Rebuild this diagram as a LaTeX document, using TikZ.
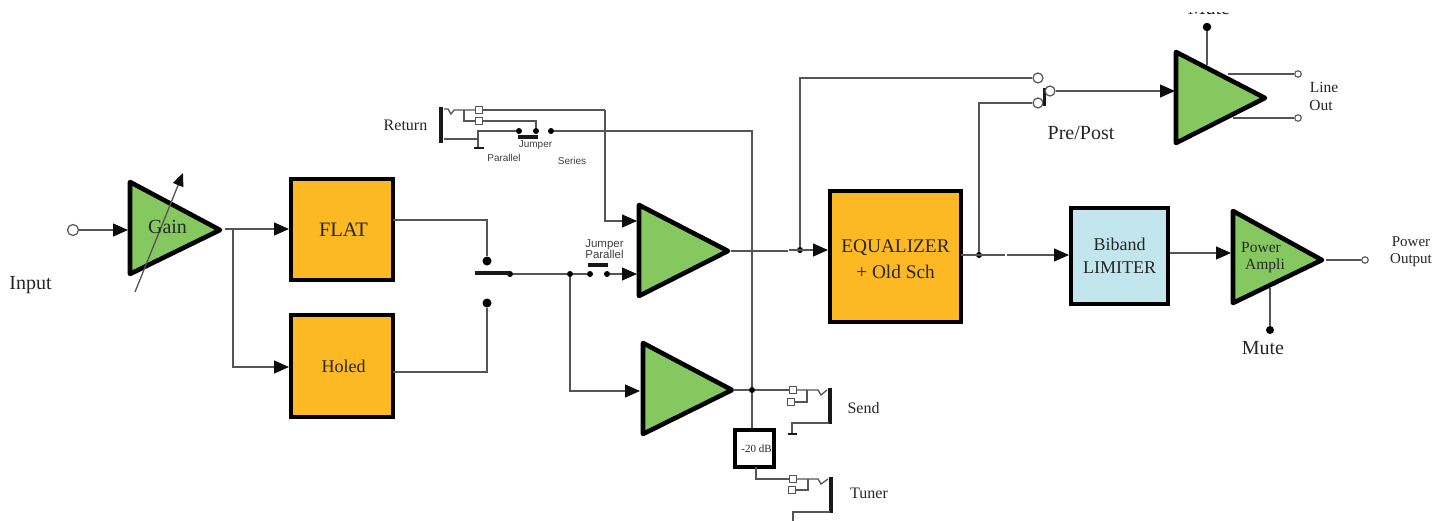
\documentclass[tikz,border=0pt]{standalone}
\usepackage{fontspec}
\setmainfont{Liberation Serif}
\newfontfamily\labelsans{Liberation Sans}
\usetikzlibrary{arrows.meta}
\definecolor{ampgreen}{HTML}{85C860}
\definecolor{boxorange}{HTML}{FDB924}
\definecolor{boxblue}{HTML}{C3E6EE}
\definecolor{wire}{HTML}{555555}
\newcommand{\fs}[1]{\fontsize{#1}{#1}\selectfont}
\tikzset{
  x=1pt,y=-1pt,
  wireline/.style={draw=wire,line width=1.3pt},
  arrowwire/.style={wireline,-{Triangle[length=15pt,width=13pt,color=black!95]}},
  thickbar/.style={draw=black!90,line width=3.6pt},
  amp/.style={draw=black,line width=4.6pt,line join=round,fill=ampgreen},
  block/.style={draw=black,line width=4pt,inner sep=0pt,align=center,text=black!85},
  orangeblock/.style={block,fill=boxorange},
  dot/.style={circle,fill=black,inner sep=0pt,minimum size=6pt},
  bigdot/.style={circle,fill=black,inner sep=0pt,minimum size=9pt},
  port/.style={circle,draw=wire,fill=white,line width=1.2pt,inner sep=0pt,minimum size=10pt},
  smallport/.style={circle,draw=wire,fill=white,line width=1.1pt,inner sep=0pt,minimum size=6.5pt},
  jackbox/.style={rectangle,draw=wire,fill=white,line width=1.1pt,inner sep=0pt,minimum size=6.5pt},
  txt/.style={inner sep=0pt,align=center,text=black!85,font=\fs{#1}},
  smalltxt/.style={inner sep=0pt,align=center,text=black!75,font=\labelsans\fs{#1}},
}
\begin{document}
\begin{tikzpicture}
\useasboundingbox (0,0) rectangle (1449,520);
\clip (0,0) rectangle (1449,520);
% amplifiers
\draw[amp] (130,182) -- (130,274) -- (220,230) -- cycle;
\draw[amp] (639,205) -- (639,296) -- (728,251) -- cycle;
\draw[amp] (643,343) -- (643,434) -- (732,390) -- cycle;
\draw[amp] (1176,52) -- (1176,143) -- (1265,98) -- cycle;
\draw[amp] (1233,211) -- (1233,303) -- (1322,260) -- cycle;
% blocks
\node[orangeblock,minimum width=102pt,minimum height=101pt,font=\fs{20.5}] (flat) at (342,229.5) {\hspace{3pt}\raisebox{-4pt}{FLAT}};
\node[orangeblock,minimum width=102pt,minimum height=102pt,font=\fs{18}] (holed) at (342,366) {\hspace{3pt}Holed};
\node[orangeblock,minimum width=131pt,minimum height=131pt,font=\fs{19.3}] (eq) at (895.5,256.5) {\rule{0pt}{18pt}EQUALIZER\\[7.5pt]+ Old Sch};
\node[block,fill=boxblue,minimum width=97pt,minimum height=96pt,font=\fs{18}] (lim) at (1119.5,256) {Biband\\[5pt]LIMITER};
\node[block,fill=white,minimum width=39pt,minimum height=37pt,font=\fs{11}] (att) at (754.5,448.5) {\hspace{4pt}-20 dB};
% input stage
\node[port,minimum size=11pt] (in) at (73,230) {};
\coordinate (gainin) at (128,230);
\draw[arrowwire] (in) -- (gainin);
\coordinate (gaina) at (135,292); \coordinate (gainb) at (183,173);
\draw[wireline,-{Triangle[length=13pt,width=11pt,color=black!95]}] (gaina) -- (gainb);
\coordinate (gainout) at (225,229);
\coordinate (splitg) at (233,229);
\draw[arrowwire] (gainout) -- (flat.west |- gainout);
\draw[arrowwire] (splitg) |- (holed.west |- 0,367);
% input selector
\node[bigdot] (sa) at (487,261) {};
\node[bigdot] (sb) at (487,303) {};
\coordinate (fo) at (393,220); \coordinate (ho) at (393,372);
\draw[wireline] (fo) -| (sa);
\draw[wireline] (ho) -| (sb);
\node[dot,minimum size=6pt] (sw) at (510,274) {};
\coordinate (swl) at (475,273); \coordinate (swr) at (510,273);
\draw[thickbar] (swl) -- (swr);
\node[dot] (j1) at (570,274) {};
\node[dot] (j2) at (590,274) {};
\node[dot] (j3) at (607,274) {};
\coordinate (a2in) at (637,274);
\coordinate (a3in) at (640,391);
\coordinate (b1) at (588,265); \coordinate (b2) at (608,265);
\draw[wireline] (sw) -- (j1);
\draw[wireline] (j1) -- (j2);
\draw[arrowwire] (j3) -- (a2in);
\draw[arrowwire] (j1) |- (a3in);
\draw[thickbar] (b1) -- (b2);
\node[smalltxt=11.5] (jp) at (604.5,249) {Jumper\\[-0.5pt]Parallel};
% return jack
\coordinate (rt) at (441,107); \coordinate (rb) at (441,143);
\draw[thickbar] (rt) -- (rb);
\coordinate (hk1) at (444,109); \coordinate (hk2) at (448,109); \coordinate (hk3) at (451,114); \coordinate (hk4) at (454,110);
\coordinate (rsplit) at (464,110);
\node[jackbox] (rb1) at (479,110) {};
\node[jackbox] (rb2) at (479,121) {};
\coordinate (rcorner) at (605,110);
\coordinate (a2top) at (637,221);
\draw[wireline] (hk1) -- (hk2) -- (hk3) -- (hk4) -- (rb1);
\draw[wireline] (rb1) -- (rcorner);
\draw[arrowwire] (rcorner) |- (a2top);
\draw[wireline] (rsplit) |- (rb2);
\node[dot] (r1) at (519,131) {};
\node[dot] (r2) at (536,131) {};
\node[dot] (r3) at (551,131) {};
\draw[wireline] (rb2) -| (r2);
\coordinate (gr) at (478,148);
\coordinate (rl) at (444,139);
\draw[wireline] (rl) -- (478,139);
\draw[wireline] (gr) |- (r1);
\coordinate (g1) at (474,148); \coordinate (g2) at (484,148);
\draw[draw=black!90,line width=2pt] (g1) -- (g2);
\coordinate (jb1) at (518,137); \coordinate (jb2) at (538,137);
\draw[thickbar] (jb1) -- (jb2);
\node[txt=16] (ret) at (405.5,125) {Return};
\node[smalltxt=10] (jt) at (535.5,145.5) {Jumper};
\node[smalltxt=10] (pt) at (504,158) {Parallel};
\node[smalltxt=10] (st) at (572,160.5) {Series};
% send bus
\node[dot] (bus) at (752,390) {};
\coordinate (a3out) at (733,390);
\coordinate (buscorner) at (752,131);
\draw[wireline] (r3) -- (buscorner) -- (bus);
\draw[wireline] (a3out) -- (bus);
\draw[wireline] (bus) -- (att.north -| bus);
% send jack
\node[jackbox] (sb1) at (793,390) {};
\node[jackbox] (sb2) at (791,402) {};
\draw[wireline] (bus) -- (sb1);
\coordinate (ss) at (807,390); \coordinate (s2) at (818,390); \coordinate (s3) at (821,395); \coordinate (s4) at (827,390);
\draw[wireline] (sb1) -- (s2) -- (s3) -- (s4);
\draw[wireline] (ss) |- (sb2);
\coordinate (st1) at (830,388); \coordinate (st2) at (830,424);
\draw[thickbar] (st1) -- (st2);
\coordinate (sg) at (792,433); \coordinate (sl) at (829,423);
\draw[wireline] (sl) -| (sg);
\coordinate (sg1) at (788,433.5); \coordinate (sg2) at (797,433.5);
\draw[draw=black!90,line width=2pt] (sg1) -- (sg2);
\node[txt=16] (send) at (863.5,408) {Send};
% tuner jack
\node[jackbox] (tb1) at (793,479) {};
\node[jackbox] (tb2) at (792,490) {};
\coordinate (ao) at (756,467);
\draw[wireline] (ao) |- (tb1);
\coordinate (ts) at (808,479); \coordinate (t2) at (818,479); \coordinate (t3) at (821,484); \coordinate (t4) at (828,479);
\draw[wireline] (tb1) -- (t2) -- (t3) -- (t4);
\draw[wireline] (ts) |- (tb2);
\coordinate (tt1) at (831,477); \coordinate (tt2) at (831,513);
\draw[thickbar] (tt1) -- (tt2);
\coordinate (tl) at (830,512); \coordinate (tg) at (793,521);
\draw[wireline] (tl) -| (tg);
\node[txt=16] (tuner) at (869,493) {Tuner};
% pre/post
\coordinate (a2out) at (731,251); \coordinate (a2end) at (788,251);
\draw[wireline] (a2out) -- (a2end);
\coordinate (eqin0) at (789,250);
\node[dot] (pre) at (800,250) {};
\draw[arrowwire] (eqin0) -- (eq.west |- eqin0);
\node[port] (pp1) at (1038,78) {};
\node[port] (pp2) at (1038,103) {};
\draw[wireline] (pre) |- (pp1);
\coordinate (eqo) at (961,255); \coordinate (eqe) at (1005,255);
\node[dot] (post) at (979,255) {};
\draw[wireline] (eqo) -- (eqe);
\draw[wireline] (post) |- (pp2);
\coordinate (limin0) at (1007,255);
\draw[arrowwire] (limin0) -- (lim.west |- limin0);
\coordinate (pb1) at (1044,88); \coordinate (pb2) at (1044,106);
\draw[draw=black!90,line width=3pt] (pb1) -- (pb2);
\node[port] (pp3) at (1050,91) {};
\coordinate (a4in) at (1175,91);
\draw[arrowwire] (pp3) -- (a4in);
\node[txt=20] (prepost) at (1081,133) {Pre/Post};
% line out amp
\node[txt=20,anchor=base] (mtt) at (1209,14.2) {Mute};
\fill[white] (1150,-1) rectangle (1260,12);
\node[bigdot,minimum size=8.5pt] (mt) at (1207,27) {};
\coordinate (mtl) at (1207,65);
\draw[wireline] (mt) -- (mtl);
\node[smallport] (lo1) at (1298,74) {};
\node[smallport] (lo2) at (1298,118) {};
\coordinate (lo1a) at (1228,74); \coordinate (lo2a) at (1233,118);
\draw[wireline] (lo1a) -- (lo1);
\draw[wireline] (lo2a) -- (lo2);
\node[txt=15.5] (lineout) at (1324,96.5) {Line\\[2pt]\hspace{-6pt}Out};
% power stage
\coordinate (limo) at (1231,253);
\draw[arrowwire] (lim.east |- limo) -- (limo);
\coordinate (pao) at (1326,260);
\node[smallport] (po) at (1365,260) {};
\draw[wireline] (pao) -- (po);
\node[bigdot,minimum size=8pt] (mb) at (1270,330) {};
\coordinate (mbl) at (1270,288);
\draw[wireline] (mbl) -- (mb);
% labels
\node[txt=20] (input) at (30.5,285.5) {Input};
\node[txt=20] (gain) at (167.5,227) {Gain};
\node[txt=15.5] (pa) at (1263,258) {\hspace{-4pt}Power\\[1.5pt]\hspace{4pt}Ampli};
\node[txt=20] (mute) at (1263,348) {Mute};
\node[txt=15] (pwo) at (1411,251.5) {Power\\[2pt]Output};
\end{tikzpicture}
\end{document}
